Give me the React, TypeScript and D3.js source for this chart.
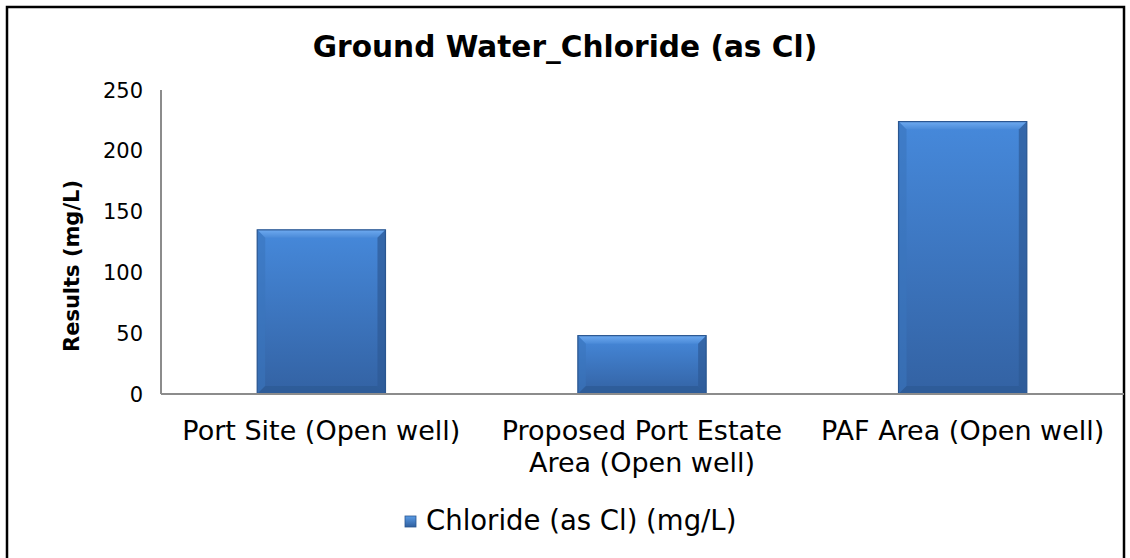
import React from "react";
import * as d3 from "d3";

const categories: string[][] = [
  ["Port Site (Open well)"],
  ["Proposed Port Estate", "Area (Open well)"],
  ["PAF Area (Open well)"],
];
const values: number[] = [135, 48, 224];
const yTicks: number[] = [0, 50, 100, 150, 200, 250];
const seriesName = "Chloride (as Cl) (mg/L)";
const title = "Ground Water_Chloride (as Cl)";
const yTitle = "Results (mg/L)";

const W = 1130;
const H = 558;
const left = 161;
const right = 1123;
const top = 90;
const bottom = 394;
const FONT = "'DejaVu Sans', Verdana, sans-serif";

export default function App() {
  const x = d3
    .scaleBand<number>()
    .domain(values.map((_, i) => i))
    .range([left, right])
    .paddingInner(0.6)
    .paddingOuter(0.3);
  const y = d3.scaleLinear().domain([0, 250]).range([bottom, top]);
  const bw = x.bandwidth();
  const bev = 8;

  return (
    <svg
      width={W}
      height={H}
      style={{ position: "absolute", left: 0, top: 0, background: "#fff" }}
    >
      <defs>
        <linearGradient id="barGrad" x1="0" y1="0" x2="0" y2="1">
          <stop offset="0%" stopColor="#4689db" />
          <stop offset="100%" stopColor="#3362a3" />
        </linearGradient>
        <linearGradient id="topGrad" x1="0" y1="0" x2="0" y2="1">
          <stop offset="0%" stopColor="#6eaaf0" />
          <stop offset="100%" stopColor="#4a8ad8" />
        </linearGradient>
        <linearGradient id="legGrad" x1="0" y1="0" x2="0" y2="1">
          <stop offset="0%" stopColor="#5a9be6" />
          <stop offset="100%" stopColor="#2f5f9e" />
        </linearGradient>
      </defs>
      <rect x={0} y={0} width={W} height={H} fill="#fff" />
      <rect
        x={7}
        y={7}
        width={1117}
        height={H + 10}
        fill="none"
        stroke="#000"
        strokeWidth={2.5}
      />
      <text
        x={565}
        y={57}
        textAnchor="middle"
        fontFamily={FONT}
        fontWeight="bold"
        fontSize={29.6}
        fill="#000"
      >
        {title}
      </text>

      {/* bars */}
      {values.map((v, i) => {
        const x0 = x(i)!;
        const y0 = y(v);
        const h = bottom - y0;
        const b = Math.min(bev, h / 2);
        return (
          <g key={i}>
            <rect x={x0} y={y0} width={bw} height={h} fill="url(#barGrad)" />
            <polygon
              points={`${x0},${y0} ${x0 + bw},${y0} ${x0 + bw - b},${y0 + b} ${x0 + b},${y0 + b}`}
              fill="url(#topGrad)"
            />
            <polygon
              points={`${x0},${y0} ${x0 + b},${y0 + b} ${x0 + b},${bottom - b} ${x0},${bottom}`}
              fill="#3b74bd"
              opacity={0.6}
            />
            <polygon
              points={`${x0 + bw},${y0} ${x0 + bw - b},${y0 + b} ${x0 + bw - b},${bottom - b} ${x0 + bw},${bottom}`}
              fill="#2d5a95"
              opacity={0.7}
            />
            <polygon
              points={`${x0},${bottom} ${x0 + b},${bottom - b} ${x0 + bw - b},${bottom - b} ${x0 + bw},${bottom}`}
              fill="#2c5a94"
              opacity={0.7}
            />
            <rect
              x={x0}
              y={y0}
              width={bw}
              height={h}
              fill="none"
              stroke="#2a5690"
              strokeWidth={1.2}
            />
          </g>
        );
      })}

      {/* axes */}
      <line x1={left} x2={left} y1={top} y2={bottom} stroke="#8c8c8c" strokeWidth={2} />
      <line x1={left} x2={right + 1} y1={bottom} y2={bottom} stroke="#8c8c8c" strokeWidth={2} />

      {yTicks.map((t) => (
        <text
          key={t}
          x={143}
          y={y(t)}
          dy="0.36em"
          textAnchor="end"
          fontFamily={FONT}
          fontSize={21}
          fill="#000"
        >
          {t}
        </text>
      ))}

      <text
        transform={`translate(79,266) rotate(-90)`}
        textAnchor="middle"
        fontFamily={FONT}
        fontWeight="bold"
        fontSize={21}
        fill="#000"
      >
        {yTitle}
      </text>

      {categories.map((lines, i) => (
        <text
          key={i}
          x={x(i)! + bw / 2}
          textAnchor="middle"
          fontFamily={FONT}
          fontSize={27}
          fill="#000"
        >
          {lines.map((l, j) => (
            <tspan key={j} x={x(i)! + bw / 2} y={440 + j * 32}>
              {l}
            </tspan>
          ))}
        </text>
      ))}

      {/* legend */}
      <rect x={405} y={516} width={11} height={11} fill="url(#legGrad)" stroke="#2a5690" strokeWidth={0.8} />
      <text x={426} y={530} fontFamily={FONT} fontSize={27.5} fill="#000">
        {seriesName}
      </text>
    </svg>
  );
}
